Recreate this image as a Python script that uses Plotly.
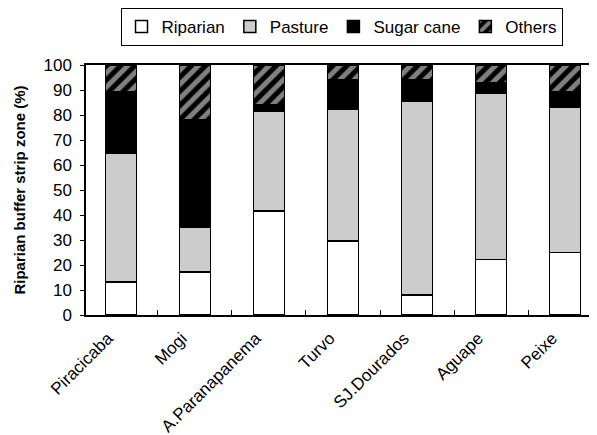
import plotly.graph_objects as go

categories = ["Piracicaba", "Mogi", "A.Paranapanema", "Turvo", "SJ.Dourados", "Aguape", "Peixe"]
riparian = [13.3, 17.3, 41.7, 29.6, 8.0, 22.3, 25.1]
pasture = [51.6, 18.0, 39.9, 52.7, 77.6, 66.6, 58.2]
sugar_cane = [24.3, 42.7, 2.7, 12.0, 8.7, 4.0, 6.0]
others = [10.8, 22.0, 15.7, 5.7, 5.7, 7.1, 10.7]
y_ticks = [0, 10, 20, 30, 40, 50, 60, 70, 80, 90, 100]

line = dict(color="black", width=1.5)
fig = go.Figure()
fig.add_bar(name="Riparian", x=categories, y=riparian, marker=dict(color="white", line=line))
fig.add_bar(name="Pasture", x=categories, y=pasture, marker=dict(color="#cccccc", line=line))
fig.add_bar(name="Sugar cane", x=categories, y=sugar_cane, marker=dict(color="black", line=line))
fig.add_bar(name="Others", x=categories, y=others,
            marker=dict(color="black", line=line,
                        pattern=dict(shape="/", fgcolor="white", bgcolor="black", size=10, solidity=0.5)))

fig.update_layout(
    barmode="stack",
    bargap=0.58,
    width=589, height=427,
    margin=dict(l=78, r=0, t=57, b=120, autoexpand=False),
    plot_bgcolor="white", paper_bgcolor="white",
    font=dict(family="Liberation Sans, Arial", size=16, color="black"),
    showlegend=True,
    legend=dict(orientation="h", x=0.5, xanchor="center", y=1.228, yanchor="top",
                bordercolor="black", borderwidth=1, font=dict(size=17),
                itemwidth=30, tracegroupgap=0, traceorder="normal"),
    xaxis=dict(range=[-0.47, 6.43], showline=True, linecolor="black", linewidth=1.5, mirror=True,
               ticks="inside", tickson="boundaries", ticklen=5, tickcolor="black",
               tickangle=-45, tickfont=dict(size=17), showgrid=False, automargin=False,
               ticklabelshift=-13, ticklabelstandoff=5),
    yaxis=dict(range=[0, 100], tickvals=y_ticks, showline=True, linecolor="black", linewidth=1.5,
               ticks="outside", ticklen=4, tickcolor="black", showgrid=False, zeroline=False,
               tickfont=dict(size=17), automargin=False, ticklabelstandoff=5,
               title=dict(text="<b>Riparian buffer strip zone (%)</b>", font=dict(size=15), standoff=14)),
)
fig.write_html("out.html")
